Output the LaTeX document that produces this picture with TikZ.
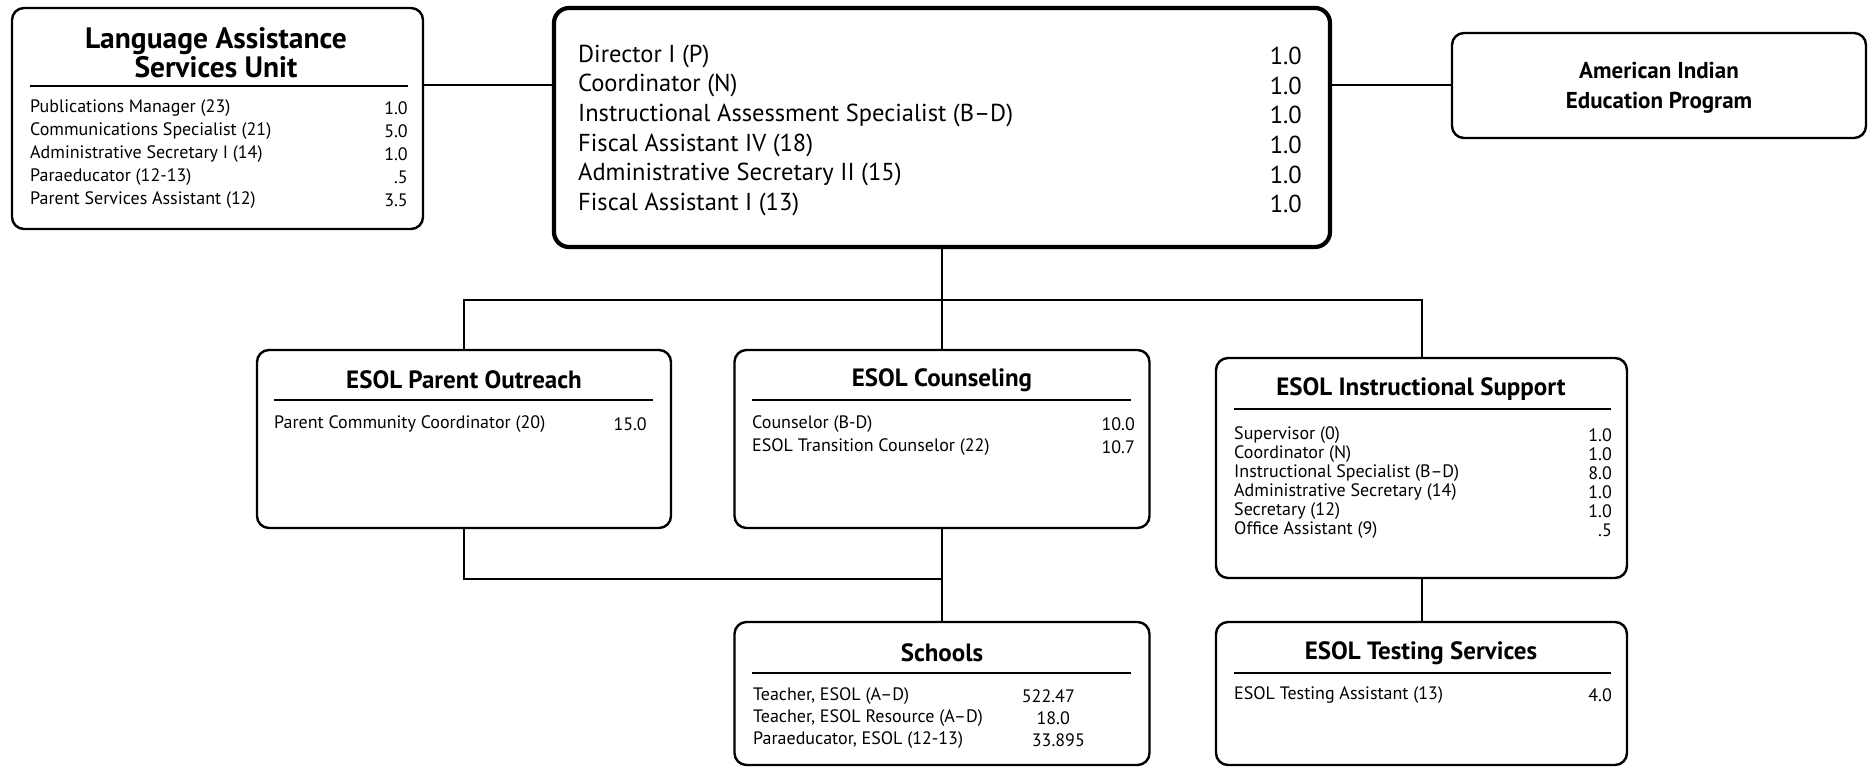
\documentclass[tikz,border=0pt]{standalone}
\usepackage{fontspec}
\setmainfont{PT Sans}
\newcommand{\rowfont}{\fontsize{18}{20}\selectfont}
\newcommand{\bigrowfont}{\fontsize{24.5}{28}\selectfont}
\newcommand{\headfont}{\fontsize{25}{29}\selectfont\bfseries}
\newcommand{\sidefont}{\fontsize{23}{30}\selectfont\bfseries}
\newcommand{\bigheadfont}{\fontsize{29.5}{29}\selectfont\bfseries}
\begin{document}
\begin{tikzpicture}[x=1pt,y=-1pt,
  box/.style={draw, line width=2.4pt, rounded corners=12pt, inner sep=0pt},
  mainbox/.style={draw, line width=4.2pt, rounded corners=15pt, inner sep=0pt},
  link/.style={line width=2pt},
  rulebar/.style={line width=1.4pt},
  rowtxt/.style={anchor=west, inner sep=0pt, font=\rowfont},
  rowval/.style={anchor=east, inner sep=0pt, font=\rowfont},
  bigtxt/.style={anchor=west, inner sep=0pt, font=\bigrowfont},
  bigval/.style={anchor=east, inner sep=0pt, font=\bigrowfont},
  head/.style={inner sep=0pt, font=\headfont, align=center},
  sidehead/.style={inner sep=0pt, font=\sidefont, align=center},
  bighead/.style={inner sep=0pt, font=\bigheadfont, align=center}]
\useasboundingbox (0,0) rectangle (1869,767);

% ---- boxes ----
\node[box, minimum width=411pt, minimum height=221pt] (lasu) at (217.5,118.5) {};
\node[mainbox, minimum width=776pt, minimum height=239pt] (dir) at (942,127.5) {};
\node[box, minimum width=414pt, minimum height=105pt] (aiep) at (1659,85.5) {};
\node[box, minimum width=414pt, minimum height=178pt] (outreach) at (464,439) {};
\node[box, minimum width=415pt, minimum height=178pt] (couns) at (942,439) {};
\node[box, minimum width=411pt, minimum height=220pt] (instr) at (1421.5,468) {};
\node[box, minimum width=415pt, minimum height=143pt] (schools) at (942,693.5) {};
\node[box, minimum width=411pt, minimum height=143pt] (testing) at (1421.5,693.5) {};

% ---- connectors ----
\coordinate (toplink) at (942,85);
\coordinate (bus) at (942,300);
\coordinate (join) at (942,579);
\draw[link] (lasu.east |- toplink) -- (dir.west |- toplink);
\draw[link] (dir.east |- toplink) -- (aiep.west |- toplink);
\draw[link] (dir.south) -- (bus);
\draw[link] (outreach.north) -- (outreach.north |- bus) -- (instr.north |- bus) -- (instr.north);
\draw[link] (couns.north) -- (couns.north |- bus);
\draw[link] (outreach.south) -- (outreach.south |- join) -- (join);
\draw[link] (couns.south) -- (schools.north);
\draw[link] (instr.south) -- (testing.north);

% ---- Language Assistance Services Unit ----
\node[bighead] (lasu-t) at (216,53) {Language Assistance\\Services Unit};
\draw[rulebar] (30,86) -- (408,86);
\node[rowtxt] (lasu-1) at (30,108) {Publications Manager (23)};
\node[rowval] (lasu-1v) at (408,108) {1.0};
\node[rowtxt] (lasu-2) at (30,131) {Communications Specialist (21)};
\node[rowval] (lasu-2v) at (408,131) {5.0};
\node[rowtxt] (lasu-3) at (30,154) {Administrative Secretary I (14)};
\node[rowval] (lasu-3v) at (408,154) {1.0};
\node[rowtxt] (lasu-4) at (30,177) {Paraeducator (12-13)};
\node[rowval] (lasu-4v) at (408,177) {.5};
\node[rowtxt] (lasu-5) at (30,200) {Parent Services Assistant (12)};
\node[rowval] (lasu-5v) at (408,200) {3.5};

% ---- Director's office ----
\node[bigtxt] (dir-1) at (578,56) {Director I (P)};
\node[bigval] (dir-1v) at (1302,56) {1.0};
\node[bigtxt] (dir-2) at (578,85.5) {Coordinator (N)};
\node[bigval] (dir-2v) at (1302,85.5) {1.0};
\node[bigtxt] (dir-3) at (578,115) {Instructional Assessment Specialist (B--D)};
\node[bigval] (dir-3v) at (1302,115) {1.0};
\node[bigtxt] (dir-4) at (578,145) {Fiscal Assistant IV (18)};
\node[bigval] (dir-4v) at (1302,145) {1.0};
\node[bigtxt] (dir-5) at (578,174.5) {Administrative Secretary II (15)};
\node[bigval] (dir-5v) at (1302,174.5) {1.0};
\node[bigtxt] (dir-6) at (578,204) {Fiscal Assistant I (13)};
\node[bigval] (dir-6v) at (1302,204) {1.0};

% ---- American Indian Education Program ----
\node[sidehead] (aiep-t) at (1659,88) {American Indian\\Education Program};

% ---- ESOL Parent Outreach ----
\node[head] (outreach-t) at (464,380) {ESOL Parent Outreach};
\draw[rulebar] (274,400) -- (653,400);
\node[rowtxt] (outreach-1) at (274,424) {Parent Community Coordinator (20)};
\node[rowval] (outreach-1v) at (647,424) {15.0};

% ---- ESOL Counseling ----
\node[head] (couns-t) at (942,380) {ESOL Counseling};
\draw[rulebar] (752,400) -- (1131,400);
\node[rowtxt] (couns-1) at (752,424) {Counselor (B-D)};
\node[rowval] (couns-1v) at (1135,424) {10.0};
\node[rowtxt] (couns-2) at (752,447) {ESOL Transition Counselor (22)};
\node[rowval] (couns-2v) at (1135,447) {10.7};

% ---- ESOL Instructional Support ----
\node[head] (instr-t) at (1421,389) {ESOL Instructional Support};
\draw[rulebar] (1234,409) -- (1611,409);
\node[rowtxt] (instr-1) at (1234,435) {Supervisor (0)};
\node[rowval] (instr-1v) at (1612,435) {1.0};
\node[rowtxt] (instr-2) at (1234,454) {Coordinator (N)};
\node[rowval] (instr-2v) at (1612,454) {1.0};
\node[rowtxt] (instr-3) at (1234,473) {Instructional Specialist (B--D)};
\node[rowval] (instr-3v) at (1612,473) {8.0};
\node[rowtxt] (instr-4) at (1234,492) {Administrative Secretary (14)};
\node[rowval] (instr-4v) at (1612,492) {1.0};
\node[rowtxt] (instr-5) at (1234,511) {Secretary (12)};
\node[rowval] (instr-5v) at (1612,511) {1.0};
\node[rowtxt] (instr-6) at (1234,530) {Office Assistant (9)};
\node[rowval] (instr-6v) at (1612,530) {.5};

% ---- Schools ----
\node[head] (schools-t) at (942,653) {Schools};
\draw[rulebar] (752,673) -- (1131,673);
\node[rowtxt] (schools-1) at (753,696) {Teacher, ESOL (A--D)};
\node[rowval] (schools-1v) at (1075,696) {522.47};
\node[rowval] (schools-2v) at (1070,718) {18.0};
\node[rowtxt] (schools-2) at (753,718) {Teacher, ESOL Resource (A--D)};
\node[rowtxt] (schools-3) at (753,740) {Paraeducator, ESOL (12-13)};
\node[rowval] (schools-3v) at (1085,740) {33.895};

% ---- ESOL Testing Services ----
\node[head] (testing-t) at (1421,653) {ESOL Testing Services};
\draw[rulebar] (1234,673) -- (1611,673);
\node[rowtxt] (testing-1) at (1234,695) {ESOL Testing Assistant (13)};
\node[rowval] (testing-1v) at (1612,695) {4.0};
\end{tikzpicture}
\end{document}
